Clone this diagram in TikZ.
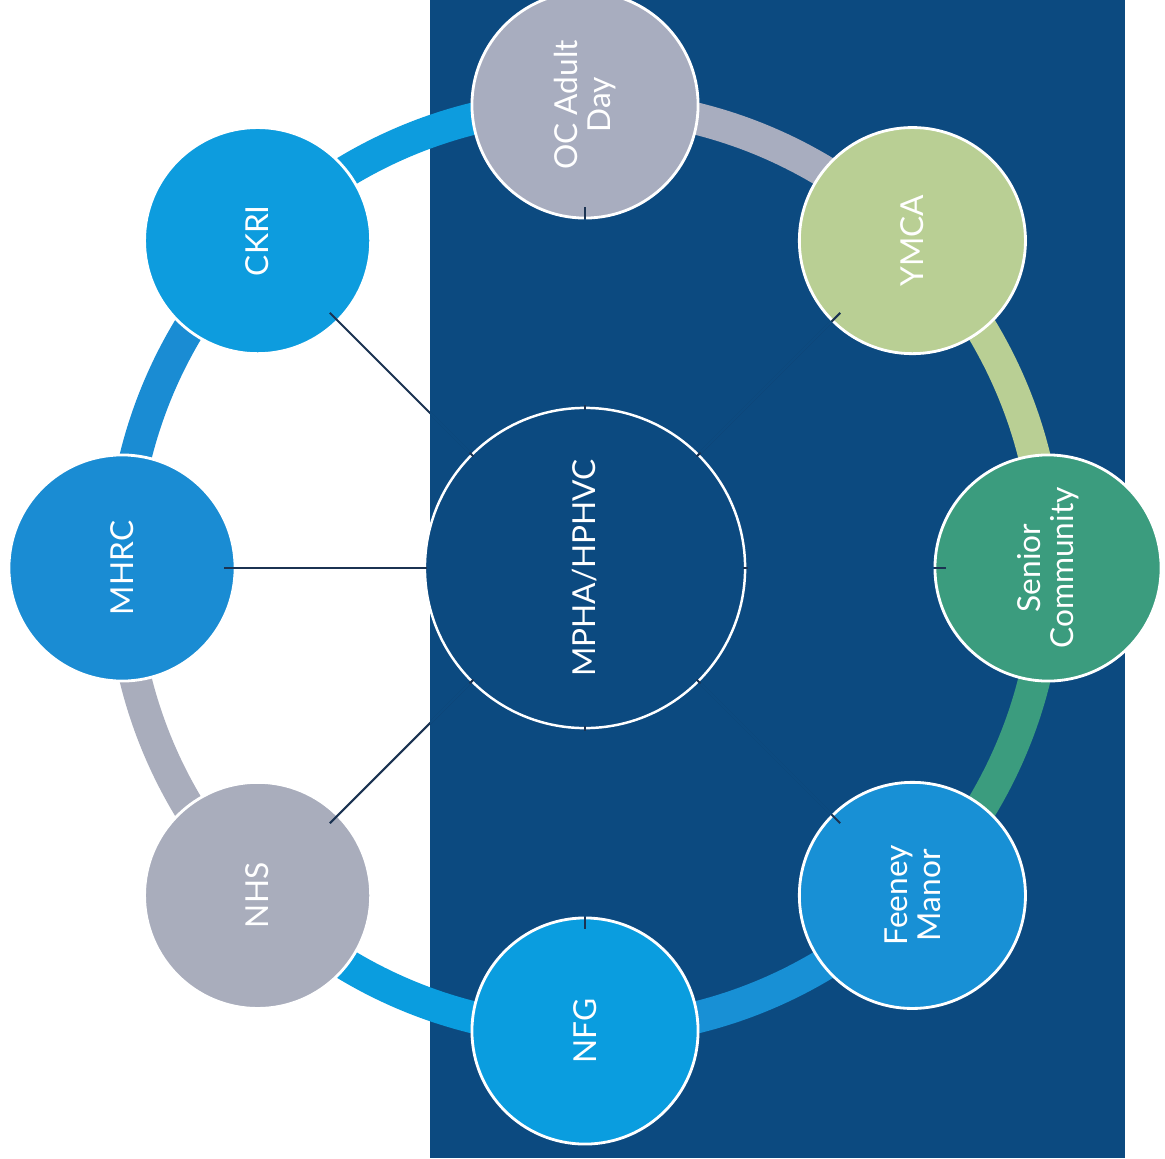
\documentclass[tikz,border=0pt]{standalone}
\usepackage{fontspec}
\setmainfont{Lato}

\definecolor{panelblue}{HTML}{0C4A80}
\definecolor{ocgray}{HTML}{A8ADBF}
\definecolor{ymcagreen}{HTML}{B9CF94}
\definecolor{seniorteal}{HTML}{3B9C7E}
\definecolor{feeneyblue}{HTML}{1890D5}
\definecolor{nfgblue}{HTML}{0A9DDF}
\definecolor{nhsgray}{HTML}{A9ADBC}
\definecolor{mhrcblue}{HTML}{1A8CD3}
\definecolor{ckriblue}{HTML}{0D9CDE}
\definecolor{linknavy}{HTML}{1B3352}

\tikzset{
  member/.style={circle, draw=white, line width=0.8pt, minimum size=2.26cm,
    inner sep=0pt, text=white, align=center, rotate=90,
    font=\fontsize{9}{9.4}\selectfont},
  hub/.style={circle, draw=white, line width=0.7pt, fill=panelblue,
    minimum size=3.2cm, inner sep=0pt, text=white, rotate=90,
    font=\fontsize{9}{9.4}\selectfont},
  band/.style={line width=0.32cm},
  link/.style={draw=linknavy, line width=0.6pt, shorten <=-1pt, shorten >=-3.5pt},
  hidden link/.style={draw=panelblue, line width=0.7pt, shorten <=0.6pt}
}

\begin{document}
\begin{tikzpicture}[x=0.01cm, y=-0.01cm]
        % page and panel
        \useasboundingbox (0,0) rectangle (1165,1158);
        \fill[white] (0,0) rectangle (1165,1158);
        \fill[panelblue] (430,0) rectangle (1125,1158);

        % centre
        \node[hub] (hub) at (585,568) {MPHA/HPHVC};

        % ring segments
        \foreach \ang/\col in {-90/ocgray,-45/ymcagreen,0/seniorteal,45/feeneyblue,
                               90/nfgblue,135/nhsgray,180/mhrcblue,225/ckriblue} {
            \draw[band, \col] ([shift={(\ang:463)}]hub.center)
                arc[start angle=\ang, delta angle=45, radius=463];
        }

        % partners
        \foreach \name/\ang/\col/\txt in {oc/-90/ocgray/{OC Adult\\Day},
                                          ymca/-45/ymcagreen/{YMCA},
                                          senior/0/seniorteal/{Senior\\Community},
                                          feeney/45/feeneyblue/{Feeney\\Manor},
                                          nfg/90/nfgblue/{NFG},
                                          nhs/135/nhsgray/{NHS},
                                          mhrc/180/mhrcblue/{MHRC},
                                          ckri/225/ckriblue/{CKRI}} {
            \node[member, fill=\col] (\name) at ([shift={(\ang:463)}]hub.center) {\txt};
        }

        % links, lost in the panel colour
        \foreach \name in {oc,ymca,senior,feeney,nfg,nhs,mhrc,ckri} {
            \draw[link] (hub) -- (\name);
        }
        \begin{scope}
            \clip (430,0) rectangle (1125,1158);
            \foreach \name in {oc,ymca,senior,feeney,nfg,nhs,mhrc,ckri} {
                \draw[hidden link] (hub) -- (\name);
            }
        \end{scope}
    \end{tikzpicture}
\end{document}
